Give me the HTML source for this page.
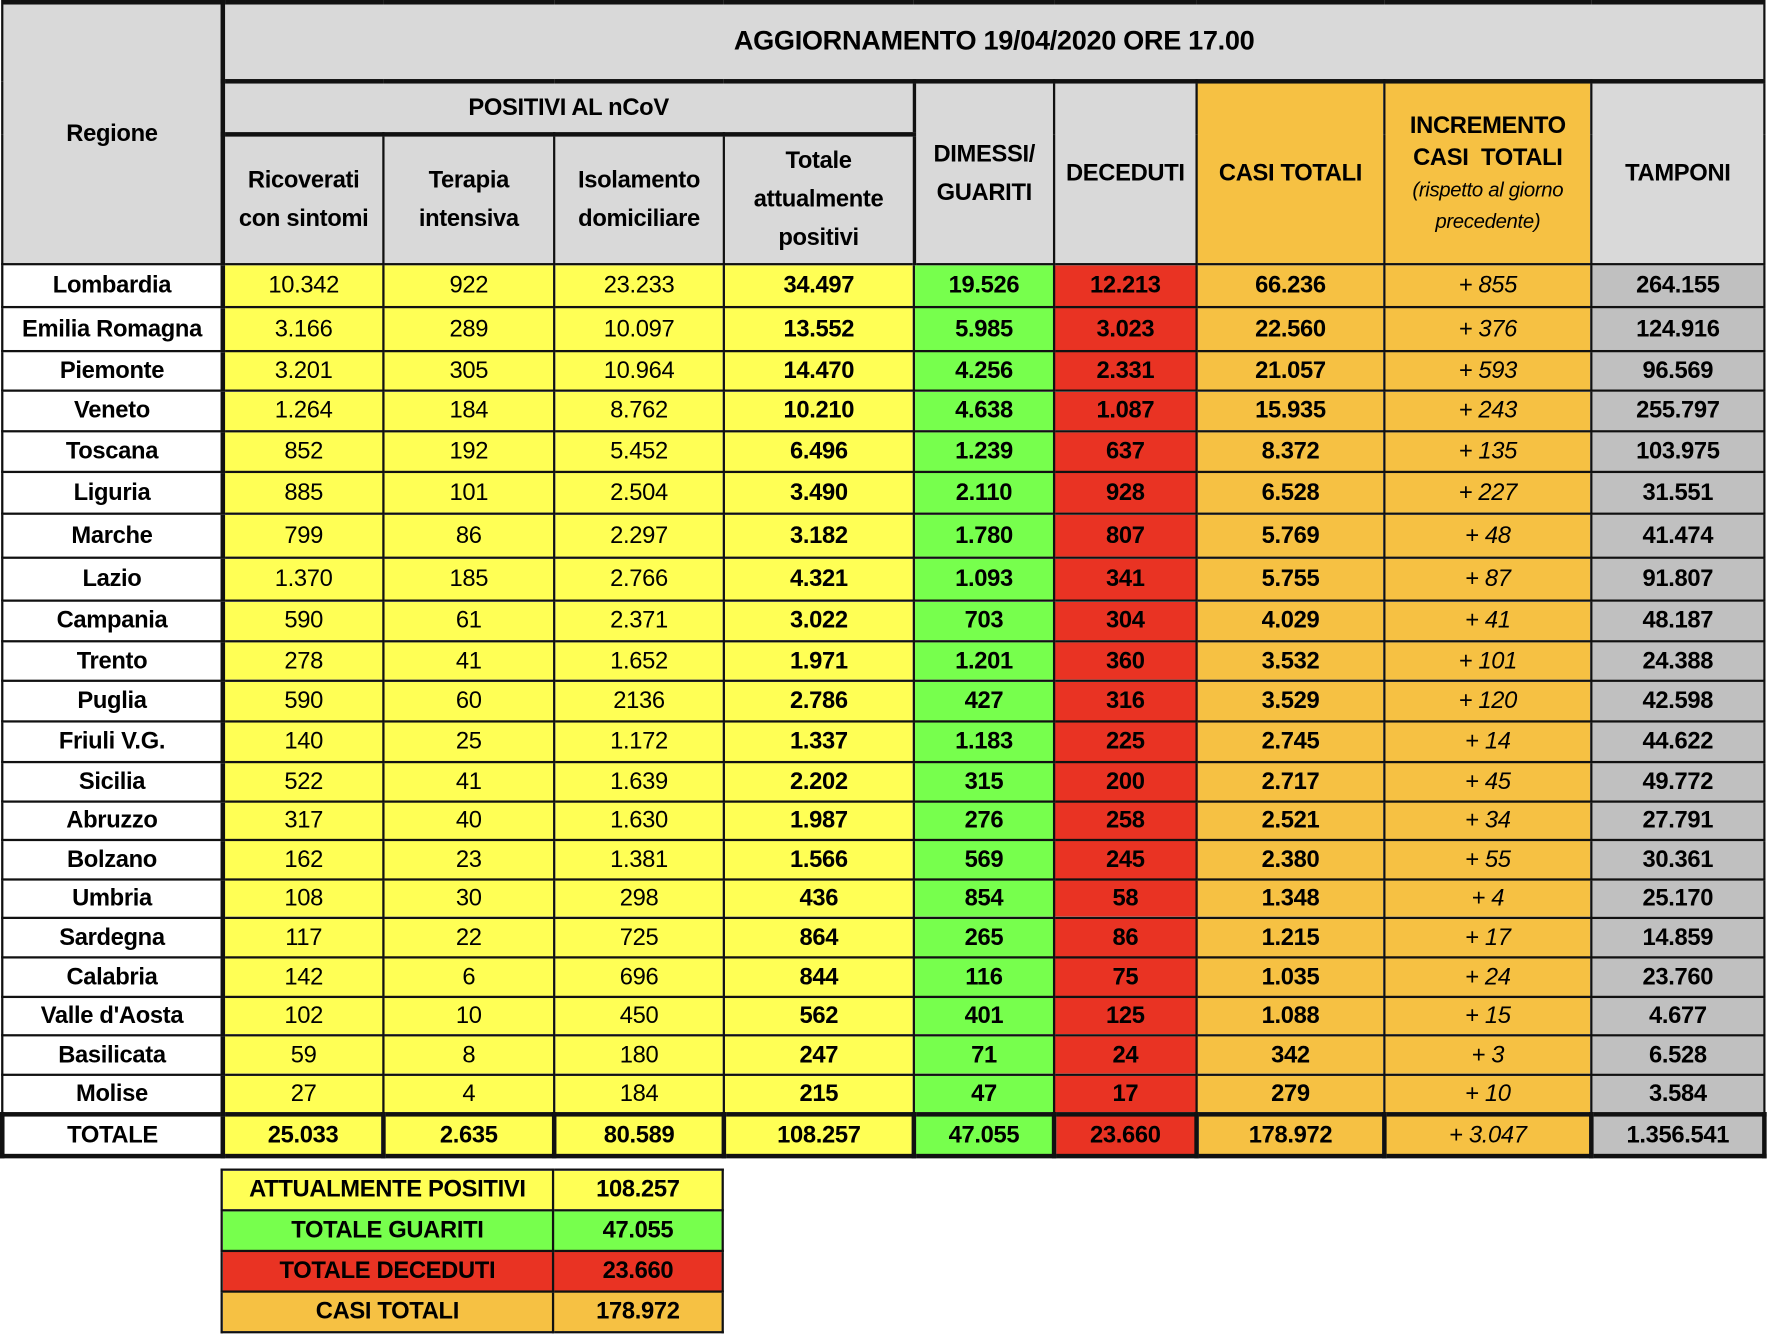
<!DOCTYPE html>
<html><head><meta charset="utf-8"><style>
html,body{margin:0;padding:0;background:#fff;width:1770px;height:1338px;overflow:hidden}
#w{position:absolute;left:0;top:0;width:1565px;height:1185px;transform:scale(1.131,1.129);transform-origin:0 0;font-family:"Liberation Sans",sans-serif;}
table{border-collapse:collapse;position:absolute;table-layout:fixed}
td{border:2px solid #111;text-align:center;vertical-align:middle;padding:0;font-size:21px;color:#000;overflow:hidden;white-space:nowrap;letter-spacing:-0.3px}
.h{background:#d9d9d9;font-weight:bold;font-size:21px;line-height:34px;white-space:normal}
.r{background:#fff;font-weight:bold}
.y{background:#ffff55}
.yb{background:#ffff55;font-weight:bold}
.g{background:#77ff4d;font-weight:bold}
.d{background:#e93323;font-weight:bold}
.o{background:#f6c143;font-weight:bold}
.oi{background:#f6c143;font-style:italic}
.t{background:#c0c0c0;font-weight:bold}
.tk{border-width:4px}
</style></head><body><div id="w">
<table id="m" style="left:0;top:0;width:1558px">
<colgroup><col style="width:195px"><col style="width:142px"><col style="width:151px"><col style="width:150px"><col style="width:168px"><col style="width:124px"><col style="width:126px"><col style="width:166px"><col style="width:183px"><col style="width:153px"></colgroup>
<tr style="height:70px"><td class="h" rowspan="3" style="border-right-width:4px;border-top-width:4px;vertical-align:top;padding-top:104px;line-height:22px">Regione</td><td class="h" colspan="9" style="font-size:24px;border-top-width:4px;border-bottom-width:4px">AGGIORNAMENTO 19/04/2020 ORE 17.00</td></tr>
<tr style="height:47px"><td class="h" colspan="4" style="border-bottom-width:4px">POSITIVI AL nCoV</td><td class="h" rowspan="2" style="border-left-width:3px">DIMESSI/<br>GUARITI</td><td class="h" rowspan="2">DECEDUTI</td><td class="h" rowspan="2" style="background:#f6c143">CASI TOTALI</td><td class="h" rowspan="2" style="background:#f6c143;line-height:28px">INCREMENTO<br>CASI &nbsp;TOTALI<br><span style="font-weight:normal;font-style:italic;font-size:18px">(rispetto al giorno<br>precedente)</span></td><td class="h" rowspan="2">TAMPONI</td></tr>
<tr style="height:115px"><td class="h">Ricoverati<br>con sintomi</td><td class="h">Terapia<br>intensiva</td><td class="h">Isolamento<br>domiciliare</td><td class="h">Totale<br>attualmente<br>positivi</td></tr>
<tr style="height:38px"><td class="r" style="border-right-width:4px">Lombardia</td><td class="y">10.342</td><td class="y">922</td><td class="y">23.233</td><td class="yb">34.497</td><td class="g">19.526</td><td class="d">12.213</td><td class="o">66.236</td><td class="oi">+ 855</td><td class="t">264.155</td></tr>
<tr style="height:39px"><td class="r" style="border-right-width:4px">Emilia Romagna</td><td class="y">3.166</td><td class="y">289</td><td class="y">10.097</td><td class="yb">13.552</td><td class="g">5.985</td><td class="d">3.023</td><td class="o">22.560</td><td class="oi">+ 376</td><td class="t">124.916</td></tr>
<tr style="height:35px"><td class="r" style="border-right-width:4px">Piemonte</td><td class="y">3.201</td><td class="y">305</td><td class="y">10.964</td><td class="yb">14.470</td><td class="g">4.256</td><td class="d">2.331</td><td class="o">21.057</td><td class="oi">+ 593</td><td class="t">96.569</td></tr>
<tr style="height:36px"><td class="r" style="border-right-width:4px">Veneto</td><td class="y">1.264</td><td class="y">184</td><td class="y">8.762</td><td class="yb">10.210</td><td class="g">4.638</td><td class="d">1.087</td><td class="o">15.935</td><td class="oi">+ 243</td><td class="t">255.797</td></tr>
<tr style="height:36px"><td class="r" style="border-right-width:4px">Toscana</td><td class="y">852</td><td class="y">192</td><td class="y">5.452</td><td class="yb">6.496</td><td class="g">1.239</td><td class="d">637</td><td class="o">8.372</td><td class="oi">+ 135</td><td class="t">103.975</td></tr>
<tr style="height:37px"><td class="r" style="border-right-width:4px">Liguria</td><td class="y">885</td><td class="y">101</td><td class="y">2.504</td><td class="yb">3.490</td><td class="g">2.110</td><td class="d">928</td><td class="o">6.528</td><td class="oi">+ 227</td><td class="t">31.551</td></tr>
<tr style="height:39px"><td class="r" style="border-right-width:4px">Marche</td><td class="y">799</td><td class="y">86</td><td class="y">2.297</td><td class="yb">3.182</td><td class="g">1.780</td><td class="d">807</td><td class="o">5.769</td><td class="oi">+ 48</td><td class="t">41.474</td></tr>
<tr style="height:38px"><td class="r" style="border-right-width:4px">Lazio</td><td class="y">1.370</td><td class="y">185</td><td class="y">2.766</td><td class="yb">4.321</td><td class="g">1.093</td><td class="d">341</td><td class="o">5.755</td><td class="oi">+ 87</td><td class="t">91.807</td></tr>
<tr style="height:36px"><td class="r" style="border-right-width:4px">Campania</td><td class="y">590</td><td class="y">61</td><td class="y">2.371</td><td class="yb">3.022</td><td class="g">703</td><td class="d">304</td><td class="o">4.029</td><td class="oi">+ 41</td><td class="t">48.187</td></tr>
<tr style="height:35px"><td class="r" style="border-right-width:4px">Trento</td><td class="y">278</td><td class="y">41</td><td class="y">1.652</td><td class="yb">1.971</td><td class="g">1.201</td><td class="d">360</td><td class="o">3.532</td><td class="oi">+ 101</td><td class="t">24.388</td></tr>
<tr style="height:36px"><td class="r" style="border-right-width:4px">Puglia</td><td class="y">590</td><td class="y">60</td><td class="y">2136</td><td class="yb">2.786</td><td class="g">427</td><td class="d">316</td><td class="o">3.529</td><td class="oi">+ 120</td><td class="t">42.598</td></tr>
<tr style="height:36px"><td class="r" style="border-right-width:4px">Friuli V.G.</td><td class="y">140</td><td class="y">25</td><td class="y">1.172</td><td class="yb">1.337</td><td class="g">1.183</td><td class="d">225</td><td class="o">2.745</td><td class="oi">+ 14</td><td class="t">44.622</td></tr>
<tr style="height:35px"><td class="r" style="border-right-width:4px">Sicilia</td><td class="y">522</td><td class="y">41</td><td class="y">1.639</td><td class="yb">2.202</td><td class="g">315</td><td class="d">200</td><td class="o">2.717</td><td class="oi">+ 45</td><td class="t">49.772</td></tr>
<tr style="height:34px"><td class="r" style="border-right-width:4px">Abruzzo</td><td class="y">317</td><td class="y">40</td><td class="y">1.630</td><td class="yb">1.987</td><td class="g">276</td><td class="d">258</td><td class="o">2.521</td><td class="oi">+ 34</td><td class="t">27.791</td></tr>
<tr style="height:35px"><td class="r" style="border-right-width:4px">Bolzano</td><td class="y">162</td><td class="y">23</td><td class="y">1.381</td><td class="yb">1.566</td><td class="g">569</td><td class="d">245</td><td class="o">2.380</td><td class="oi">+ 55</td><td class="t">30.361</td></tr>
<tr style="height:34px"><td class="r" style="border-right-width:4px">Umbria</td><td class="y">108</td><td class="y">30</td><td class="y">298</td><td class="yb">436</td><td class="g">854</td><td class="d">58</td><td class="o">1.348</td><td class="oi">+ 4</td><td class="t">25.170</td></tr>
<tr style="height:35px"><td class="r" style="border-right-width:4px">Sardegna</td><td class="y">117</td><td class="y">22</td><td class="y">725</td><td class="yb">864</td><td class="g">265</td><td class="d">86</td><td class="o">1.215</td><td class="oi">+ 17</td><td class="t">14.859</td></tr>
<tr style="height:35px"><td class="r" style="border-right-width:4px">Calabria</td><td class="y">142</td><td class="y">6</td><td class="y">696</td><td class="yb">844</td><td class="g">116</td><td class="d">75</td><td class="o">1.035</td><td class="oi">+ 24</td><td class="t">23.760</td></tr>
<tr style="height:34px"><td class="r" style="border-right-width:4px">Valle d'Aosta</td><td class="y">102</td><td class="y">10</td><td class="y">450</td><td class="yb">562</td><td class="g">401</td><td class="d">125</td><td class="o">1.088</td><td class="oi">+ 15</td><td class="t">4.677</td></tr>
<tr style="height:35px"><td class="r" style="border-right-width:4px">Basilicata</td><td class="y">59</td><td class="y">8</td><td class="y">180</td><td class="yb">247</td><td class="g">71</td><td class="d">24</td><td class="o">342</td><td class="oi">+ 3</td><td class="t">6.528</td></tr>
<tr style="height:35px"><td class="r" style="border-right-width:4px">Molise</td><td class="y">27</td><td class="y">4</td><td class="y">184</td><td class="yb">215</td><td class="g">47</td><td class="d">17</td><td class="o">279</td><td class="oi">+ 10</td><td class="t">3.584</td></tr>
<tr style="height:37px"><td class="r tk">TOTALE</td><td class="yb tk">25.033</td><td class="yb tk">2.635</td><td class="yb tk">80.589</td><td class="yb tk">108.257</td><td class="g tk">47.055</td><td class="d tk">23.660</td><td class="o tk">178.972</td><td class="oi tk">+ 3.047</td><td class="t tk">1.356.541</td></tr>
</table>
<table style="left:195px;top:1035px;width:443px">
<colgroup><col style="width:293px"><col style="width:150px"></colgroup>
<tr style="height:36px"><td class="yb">ATTUALMENTE POSITIVI</td><td class="yb">108.257</td></tr>
<tr style="height:36px"><td class="g">TOTALE GUARITI</td><td class="g">47.055</td></tr>
<tr style="height:36px"><td class="d">TOTALE DECEDUTI</td><td class="d">23.660</td></tr>
<tr style="height:36px"><td class="o">CASI TOTALI</td><td class="o">178.972</td></tr>
</table>
</div></body></html>
